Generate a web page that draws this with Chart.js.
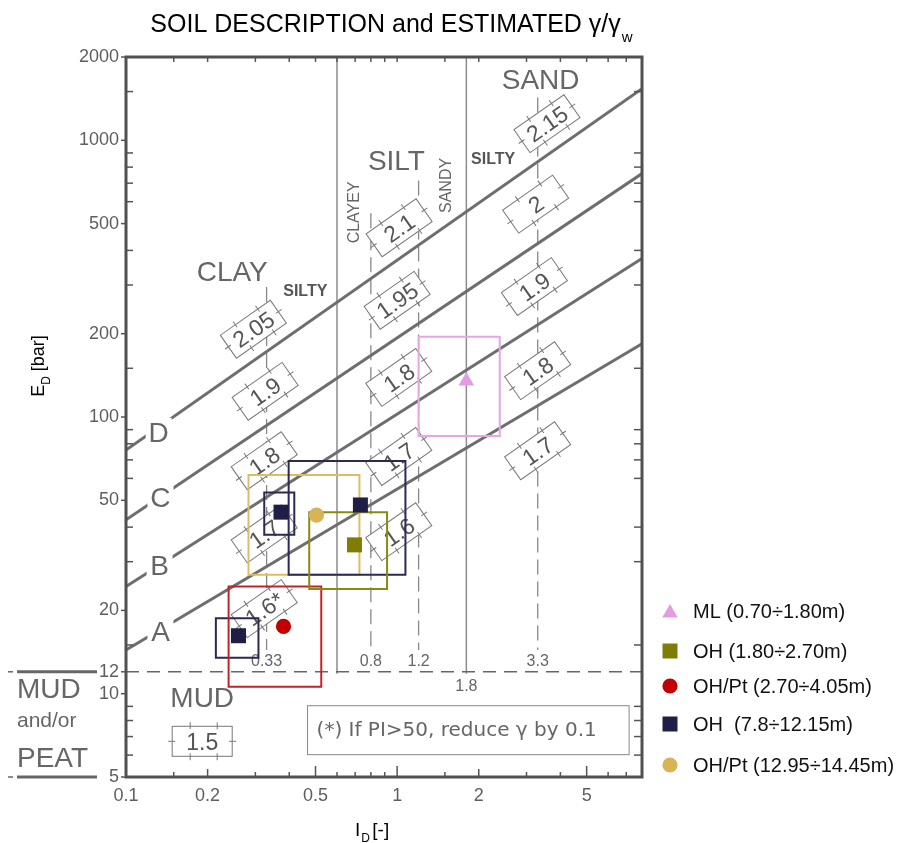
<!DOCTYPE html>
<html>
<head>
<meta charset="utf-8">
<script src="https://cdn.jsdelivr.net/npm/chart.js@4.4.1/dist/chart.umd.min.js"></script>
<style>
html, body { margin: 0; padding: 0; background: #fff; }
</style>
</head>
<body>
<canvas id="chart1" width="905" height="843"></canvas>
<script>
// axis ticks
var xTicks = [0.1, 0.2, 0.5, 1, 2, 5];
var yTicks = [5, 10, 12, 20, 50, 100, 200, 500, 1000, 2000];

// boundary lines A-D (ED at ID = 0.1 and ID = 8)
var boundaryNames = ['A', 'B', 'C', 'D'];
var boundaryID = [0.1, 8];
var boundaryA = [14.4, 184];
var boundaryB = [24.4, 374];
var boundaryC = [42.5, 758];
var boundaryD = [76, 1536];

// soil type limits
var solidID = [0.6, 1.8];
var dashedID = [0.33, 0.8, 1.2, 3.3];
var dashedTop = [295, 545, 716, 1429];
var dashedBottom = 14.4;
var mudLimit = 12;

// gamma labels
var gammaText = ['2.05', '1.9', '1.8', '1.7', '1.6*', '2.1', '1.95', '1.8', '1.7', '1.6', '2.15', '2', '1.9', '1.8', '1.7'];

// test results
var seriesNames = ['ML (0.70÷1.80m)', 'OH (1.80÷2.70m)', 'OH/Pt (2.70÷4.05m)', 'OH  (7.8÷12.15m)', 'OH/Pt (12.95÷14.45m)'];
var pointID = [[1.8], [0.696], [0.381], [0.26, 0.373, 0.732], [0.504]];
var pointED = [[135], [34.5], [17.5], [16.2, 45.3, 48.1], [44.2]];
var idLow = [[1.2], [0.474], [0.239], [0.2145, 0.3235, 0.398], [0.283]];
var idHigh = [[2.39], [0.918], [0.525], [0.308, 0.4175, 1.073], [0.726]];
var edLow = [[85.4], [23.9], [10.6], [13.5, 37.5, 26.9], [26.9]];
var edHigh = [[194.8], [45.3], [24.4], [18.75, 53.3, 69.3], [61.7]];

// look
var markerColors = ['#e39ce3', '#7e7e06', '#c20000', '#1e1e46', '#d8b456'];
var boxColors = ['#e6a6e6', '#8a8a12', '#c0242a', '#2a2a55', '#dcbc64'];
var markerStyles = ['triangle', 'rect', 'circle', 'rect', 'circle'];
var markerRadii = [9, 10.6, 7.6, 10.6, 7.6];
var FONT = '"Liberation Sans", Arial, sans-serif';

// where the annotations sit (data coords)
var letterID = [0.134, 0.133, 0.134, 0.132];
var letterED = [16.8, 29.2, 51.4, 88.4];
var gammaID = [0.295, 0.326, 0.3235, 0.3235, 0.3235, 1.017, 1.0, 1.014, 1.014, 1.014, 3.57, 3.243, 3.207, 3.298, 3.298];
var gammaED = [207.6, 123.8, 69.5, 37.8, 20.3, 483, 264, 139, 72, 38.5, 1148, 588, 296, 147, 75.5];
var regionLabels = [
	{t: 'CLAY', x: 0.2464, y: 336, size: 28},
	{t: 'SILTY', x: 0.4584, y: 287, size: 16, bold: true},
	{t: 'SILT', x: 0.994, y: 846, size: 28},
	{t: 'CLAYEY', x: 0.69, y: 549, size: 16, rot: true},
	{t: 'SANDY', x: 1.508, y: 687, size: 16, rot: true},
	{t: 'SILTY', x: 2.259, y: 860, size: 16, bold: true},
	{t: 'SAND', x: 3.383, y: 1673, size: 28},
	{t: 'MUD', x: 0.191, y: 9.74, size: 28}
];

function pxLine(ctx, x1, y1, x2, y2) {
	ctx.beginPath();
	ctx.moveTo(x1, y1);
	ctx.lineTo(x2, y2);
	ctx.stroke();
}

function capText(ctx, txt, x, y, size, align, color, weight) {
	ctx.font = (weight || 'normal') + ' ' + size + 'px ' + FONT;
	ctx.textAlign = align || 'center';
	ctx.textBaseline = 'alphabetic';
	ctx.fillStyle = color || '#666';
	ctx.fillText(txt, x, y + 0.36 * size);
}

function gammaBox(ctx, x, y, txt, w, h, angle) {
	ctx.save();
	ctx.translate(x, y);
	ctx.rotate(angle);
	ctx.fillStyle = '#fff';
	ctx.fillRect(-w / 2, -h / 2, w, h);
	ctx.strokeStyle = '#777';
	ctx.lineWidth = 1;
	ctx.strokeRect(-w / 2, -h / 2, w, h);
	// little cross ticks
	pxLine(ctx, -w / 2 - 4, 0, -w / 2 + 3, 0);
	pxLine(ctx, w / 2 - 3, 0, w / 2 + 4, 0);
	[-0.2, 0.25].forEach(function (f) {
		pxLine(ctx, f * w, -h / 2 - 4, f * w, -h / 2 + 3);
		pxLine(ctx, f * w, h / 2 - 3, f * w, h / 2 + 4);
	});
	capText(ctx, txt, 0, 0, 23, 'center', '#555');
	ctx.restore();
}

function marker(ctx, style, r, x, y, color) {
	ctx.fillStyle = color;
	ctx.beginPath();
	if (style === 'triangle') {
		ctx.moveTo(x, y - r);
		ctx.lineTo(x + r * 0.866, y + r / 2);
		ctx.lineTo(x - r * 0.866, y + r / 2);
		ctx.closePath();
	} else if (style === 'rect') {
		var s = r * Math.SQRT1_2;
		ctx.rect(x - s, y - s, 2 * s, 2 * s);
	} else {
		ctx.arc(x, y, r, 0, Math.PI * 2);
	}
	ctx.fill();
}

var decor = {
	id: 'decor',
	beforeDatasetsDraw: function (chart) {
		var ctx = chart.ctx, a = chart.chartArea, x = chart.scales.x, y = chart.scales.y;
		var py12 = y.getPixelForValue(mudLimit);
		ctx.save();
		ctx.strokeStyle = '#8c8c8c';
		ctx.lineWidth = 1.5;
		solidID.forEach(function (v) {
			var px = x.getPixelForValue(v);
			pxLine(ctx, px, a.top, px, py12 + 2);
		});
		ctx.setLineDash([15, 7]);
		ctx.strokeStyle = '#888';
		ctx.lineWidth = 1.3;
		dashedID.forEach(function (v, i) {
			var px = x.getPixelForValue(v);
			pxLine(ctx, px, y.getPixelForValue(dashedTop[i]), px, y.getPixelForValue(dashedBottom));
		});
		ctx.setLineDash([13, 8]);
		ctx.strokeStyle = '#666';
		ctx.lineWidth = 1.5;
		pxLine(ctx, a.left, py12, a.right, py12);
		ctx.setLineDash([]);

		// limit labels
		dashedID.forEach(function (v) {
			capText(ctx, String(v), x.getPixelForValue(v), y.getPixelForValue(13.25), 16, 'center', '#666');
		});
		capText(ctx, '1.8', x.getPixelForValue(1.8), y.getPixelForValue(10.7), 16, 'center', '#666');

		// gamma boxes
		gammaText.forEach(function (t, i) {
			gammaBox(ctx, x.getPixelForValue(gammaID[i]), y.getPixelForValue(gammaED[i]), t, 61, 28, -35 * Math.PI / 180);
		});
		gammaBox(ctx, x.getPixelForValue(0.191), y.getPixelForValue(6.73), '1.5', 60, 30, 0);

		// soil names
		regionLabels.forEach(function (r) {
			var px = x.getPixelForValue(r.x), py = y.getPixelForValue(r.y);
			if (r.rot) {
				ctx.save();
				ctx.translate(px, py);
				ctx.rotate(-Math.PI / 2);
				capText(ctx, r.t, 0, 0, r.size, 'center', '#666');
				ctx.restore();
			} else {
				capText(ctx, r.t, px, py, r.size, 'center', r.bold ? '#555' : '#666', r.bold ? 'bold' : 'normal');
			}
		});

		// footnote
		var fx0 = x.getPixelForValue(0.4674), fx1 = x.getPixelForValue(7.17);
		var fy0 = y.getPixelForValue(9.05), fy1 = y.getPixelForValue(6.02);
		ctx.strokeStyle = '#888';
		ctx.lineWidth = 1;
		ctx.strokeRect(fx0, fy0, fx1 - fx0, fy1 - fy0);
		ctx.font = '20px "DejaVu Sans", sans-serif';
		ctx.fillStyle = '#666';
		ctx.textAlign = 'left';
		ctx.textBaseline = 'middle';
		ctx.fillText('(*) If PI>50, reduce γ by 0.1', fx0 + 9, (fy0 + fy1) / 2 + 1);
		ctx.restore();
	},
	afterDatasetDraw: function (chart, args) {
		var ds = chart.data.datasets[args.index];
		if (ds.letter === undefined) return;
		var ctx = chart.ctx, x = chart.scales.x, y = chart.scales.y;
		var px = x.getPixelForValue(letterID[ds.letter]), py = y.getPixelForValue(letterED[ds.letter]);
		ctx.save();
		ctx.fillStyle = '#fff';
		ctx.fillRect(px - 13, py - 14, 26, 28);
		capText(ctx, boundaryNames[ds.letter], px, py, 28, 'center', '#666');
		ctx.restore();
	},
	afterDraw: function (chart) {
		var ctx = chart.ctx, a = chart.chartArea, x = chart.scales.x, y = chart.scales.y;
		var py12 = y.getPixelForValue(mudLimit);
		ctx.save();
		// minor ticks inside
		ctx.strokeStyle = '#555';
		ctx.lineWidth = 1.5;
		[6, 7, 8, 9, 15, 30, 40, 60, 70, 80, 90, 150, 300, 400, 600, 700, 800, 900, 1500].forEach(function (v) {
			var py = y.getPixelForValue(v);
			pxLine(ctx, a.left, py, a.left + 7, py);
			pxLine(ctx, a.right - 8, py, a.right, py);
		});
		yTicks.forEach(function (v) {
			var py = y.getPixelForValue(v);
			pxLine(ctx, a.left - 5, py, a.left, py);
		});
		[0.15, 0.2, 0.3, 0.4, 0.5, 0.6, 0.7, 0.8, 0.9, 1, 1.5, 2, 3, 4, 5, 6, 7].forEach(function (v) {
			var px = x.getPixelForValue(v);
			var len = (v === 0.5 || v === 1 || v === 5) ? 11 : (v === 0.2 || v === 2) ? 8 : 5;
			pxLine(ctx, px, a.bottom - len, px, a.bottom);
			pxLine(ctx, px, a.top, px, a.top + 5);
		});
		// frame
		ctx.strokeStyle = '#505050';
		ctx.lineWidth = 3;
		ctx.strokeRect(a.left, a.top, a.right - a.left, a.bottom - a.top);

		// MUD and/or PEAT on the left
		ctx.strokeStyle = '#666';
		ctx.lineWidth = 3;
		pxLine(ctx, 17, py12, 97, py12);
		pxLine(ctx, 17, a.bottom, 97, a.bottom);
		ctx.lineWidth = 1.5;
		pxLine(ctx, 8, py12, 13, py12);
		pxLine(ctx, 8, a.bottom, 13, a.bottom);
		capText(ctx, 'MUD', 17, 688, 28, 'left', '#666');
		capText(ctx, 'and/or', 17, 719, 21, 'left', '#666');
		capText(ctx, 'PEAT', 17, 757, 28, 'left', '#666');

		// title
		ctx.fillStyle = '#000';
		ctx.textAlign = 'left';
		ctx.textBaseline = 'alphabetic';
		ctx.font = '25px ' + FONT;
		var main = 'SOIL DESCRIPTION and ESTIMATED γ/γ';
		var mw = ctx.measureText(main).width;
		ctx.font = '15px ' + FONT;
		var sw = ctx.measureText('w').width;
		var tx = 391 - (mw + sw) / 2;
		ctx.font = '25px ' + FONT;
		ctx.fillText(main, tx, 32);
		ctx.font = '15px ' + FONT;
		ctx.fillText('w', tx + mw + 1, 42);

		// axis titles
		ctx.save();
		ctx.translate(44, 366);
		ctx.rotate(-Math.PI / 2);
		ctx.font = '18px ' + FONT;
		var ew = ctx.measureText('E').width;
		ctx.font = '12px ' + FONT;
		var dw = ctx.measureText('D').width;
		ctx.font = '18px ' + FONT;
		var bw = ctx.measureText(' [bar]').width;
		var sx = -(ew + dw + bw) / 2;
		ctx.fillText('E', sx, 0);
		ctx.font = '12px ' + FONT;
		ctx.fillText('D', sx + ew, 6);
		ctx.font = '18px ' + FONT;
		ctx.fillText(' [bar]', sx + ew + dw, 0);
		ctx.restore();

		ctx.font = '19px ' + FONT;
		ctx.fillStyle = '#000';
		var iw = ctx.measureText('I').width;
		ctx.fillText('I', 355, 836);
		ctx.font = '12px ' + FONT;
		ctx.fillText('D', 355 + iw + 1, 842);
		ctx.font = '19px ' + FONT;
		ctx.fillText('[-]', 355 + iw + 12, 836);

		// legend
		var rows = [611, 651, 686, 724, 765];
		seriesNames.forEach(function (name, s) {
			marker(ctx, markerStyles[s], markerRadii[s], 670, rows[s] + (markerStyles[s] === 'triangle' ? 2 : 0), markerColors[s]);
			capText(ctx, name, 693, rows[s], 20, 'left', '#111');
		});
		ctx.restore();
	}
};

var datasets = [];
[boundaryA, boundaryB, boundaryC, boundaryD].forEach(function (ed, i) {
	datasets.push({
		label: 'line ' + boundaryNames[i],
		letter: i,
		data: boundaryID.map(function (v, k) { return {x: v, y: ed[k]}; }),
		showLine: true,
		borderColor: '#6e6e6e',
		borderWidth: 3,
		pointRadius: 0,
		order: 10
	});
});
seriesNames.forEach(function (name, s) {
	pointID[s].forEach(function (v, k) {
		var x0 = idLow[s][k], x1 = idHigh[s][k], y0 = edLow[s][k], y1 = edHigh[s][k];
		datasets.push({
			label: name + ' range',
			data: [{x: x0, y: y0}, {x: x1, y: y0}, {x: x1, y: y1}, {x: x0, y: y1}, {x: x0, y: y0}],
			showLine: true,
			borderColor: boxColors[s],
			borderWidth: 2,
			borderCapStyle: 'square',
			pointRadius: 0,
			order: 5
		});
	});
	datasets.push({
		label: name,
		data: pointID[s].map(function (v, k) { return {x: v, y: pointED[s][k]}; }),
		pointStyle: markerStyles[s],
		pointRadius: markerRadii[s],
		backgroundColor: markerColors[s],
		borderColor: markerColors[s],
		borderWidth: 0,
		showLine: false,
		order: 0
	});
});

var ctx = document.getElementById('chart1').getContext('2d');
new Chart(ctx, {
	type: 'scatter',
	data: {datasets: datasets},
	options: {
		responsive: false,
		animation: false,
		layout: {padding: {left: 0, top: 57, right: 263, bottom: 0}},
		plugins: {legend: {display: false}, tooltip: {enabled: false}},
		scales: {
			x: {
				type: 'logarithmic',
				min: 0.1,
				max: 8,
				grid: {display: false, drawTicks: false},
				border: {display: false},
				afterBuildTicks: function (s) { s.ticks = xTicks.map(function (v) { return {value: v}; }); },
				afterFit: function (s) { s.height = 66; },
				ticks: {
					autoSkip: false, maxRotation: 0, padding: 8, color: '#5e5e5e',
					font: {size: 18, family: FONT},
					callback: function (v) { return String(v); }
				}
			},
			y: {
				type: 'logarithmic',
				min: 5,
				max: 2000,
				grid: {display: false, drawTicks: false},
				border: {display: false},
				afterBuildTicks: function (s) { s.ticks = yTicks.map(function (v) { return {value: v}; }); },
				afterFit: function (s) { s.width = 126; },
				ticks: {
					autoSkip: false, padding: 7, color: '#5e5e5e',
					font: {size: 18, family: FONT},
					callback: function (v) { return String(v); }
				}
			}
		}
	},
	plugins: [decor]
});
</script>
</body>
</html>
